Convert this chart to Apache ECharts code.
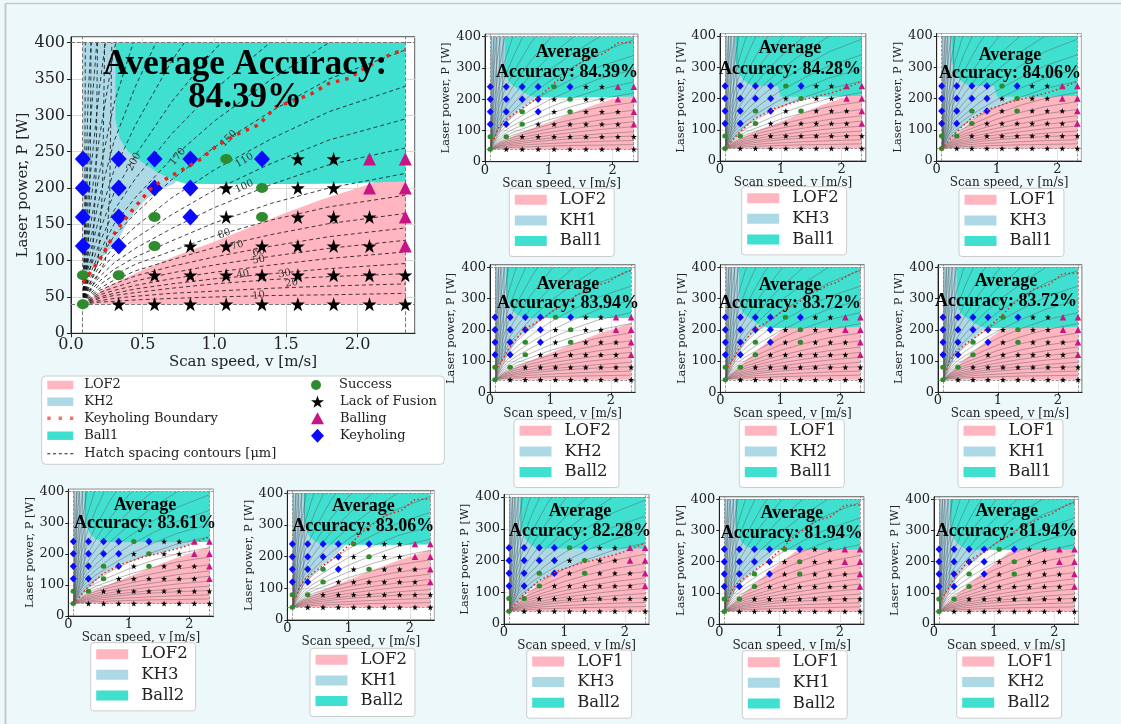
<!DOCTYPE html>
<html><head><meta charset="utf-8">
<script src="https://cdn.jsdelivr.net/npm/echarts@6/dist/echarts.min.js"></script>
<style>html,body{margin:0;padding:0;background:#edf8fb}#c{width:1121px;height:724px}</style>
</head><body><div id="c"></div>
<script>
// ---------------- DATA ----------------
const ACCURACY   = ['84.39%','84.39%','84.28%','84.06%','83.94%','83.72%','83.72%','83.61%','83.06%','82.28%','81.94%','81.94%'];
const LOF_MODEL  = ['LOF2','LOF2','LOF2','LOF1','LOF2','LOF1','LOF1','LOF2','LOF2','LOF1','LOF1','LOF1'];
const KH_MODEL   = ['KH2','KH1','KH3','KH3','KH2','KH2','KH1','KH3','KH1','KH3','KH1','KH2'];
const BALL_MODEL = ['Ball1','Ball1','Ball1','Ball1','Ball2','Ball1','Ball1','Ball2','Ball2','Ball2','Ball2','Ball2'];

// experiment grid (scan speed m/s, power W) and observed outcome
const V_LEVELS = [0.083,0.333,0.583,0.833,1.083,1.333,1.583,1.833,2.083,2.333];
const P_LEVELS = [240,200,160,120,80,40];
// S = Success, L = Lack of Fusion, B = Balling, K = Keyholing
const OUTCOMES = ['KKKKSKLLBB','KKKKLSLLBB','KKSKLSLLLB','KKSLLLLLLB','SSLLLLLLLL','SLLLLLLLLL'];

// data domain bounds (dashed lines)
const V_BOUNDS = [0.083, 2.333];
const P_BOUNDS = [40, 400];

// region boundaries [v, P]
const LOF1_TOP = [[0.083,40],[0.33,85],[0.58,128],[0.83,168],[1.08,205],[1.25,230],[1.35,240],[2.333,240]];
const LOF2_TOP = [[0.083,40],[0.25,64],[0.5,87],[0.75,108],[1.0,126],[1.25,146],[1.5,166],[1.75,184],[2.0,200],[2.333,222]];
const KH1_POLY = [[0.083,400],[0.083,62],[0.16,80],[0.31,120],[0.5,160],[0.76,200],[0.95,237],[1.1,260],[1.1,400]];
const KH2_POLY = [[0.083,400],[0.083,78],[0.12,85],[0.22,105],[0.32,125],[0.4,155],[0.5,180],[0.6,196],[0.72,206],[0.83,232],[1.0,258],[1.2,275],[1.2,400]];
const KH3_POLY = [[0.083,400],[0.083,40],[0.2,65],[0.33,92],[0.58,135],[0.9,168],[1.23,189],[1.56,205],[1.89,221],[2.1,235],[2.333,255],[2.333,400]];
const BALL1_POLY = [[0.31,400],[0.31,295],[0.34,268],[0.4,250],[0.5,235],[0.6,222],[0.7,212],[0.8,206],[1.2,205],[1.8,206],[2.333,209],[2.333,400]];
const BALL1_KH3_POLY = [[0.25,400],[0.25,320],[0.3,285],[0.38,260],[0.48,246],[0.6,241],[0.95,240],[1.0,206],[1.8,206],[2.333,209],[2.333,400]];
const BALL2_POLY = [[0.27,400],[0.27,320],[0.3,290],[0.36,265],[0.44,250],[0.52,242],[0.62,238],[1.5,237],[2.333,238],[2.333,400]];

// keyholing boundaries
const KH1_LINE = [[0.083,65],[0.15,75],[0.2,105],[0.3,130],[0.5,160],[0.83,205],[1.08,250],[1.3,290],[1.6,330],[1.85,345],[2.08,380],[2.333,382]];
const KH2_LINE = [[0.083,70],[0.2,101],[0.317,142],[0.43,170],[0.57,202],[0.73,220],[0.9,239],[1.01,257],[1.17,275],[1.31,287],[1.43,312],[1.54,319],[1.68,330],[1.8,344],[1.94,351],[2.05,365],[2.24,385],[2.333,390]];
const KH3_LINE = [[0.083,40],[0.2,65],[0.3,88],[0.57,136],[0.9,168],[1.23,189],[1.56,205],[1.89,221],[2.1,236],[2.333,255]];

// hatch spacing contours: P at each CONTOUR_V
const CONTOUR_V = [0.083,0.12,0.2,0.3,0.45,0.7,1.0,1.4,1.8,2.333];
const CONTOUR_P = [
 [40,41,43,44,46,48,50,52,53,55],
 [40,42,45,48,51,55,58,62,65,68],
 [40,43,48,52,56,62,68,74,78,82],
 [40,44,50,55,61,68,75,82,89,96],
 [40,45,53,59,66,75,84,94,103,112],
 [40,46,56,63,72,83,94,106,117,128],
 [40,48,59,68,79,92,105,120,133,145],
 [40,50,62,73,86,101,118,136,151,165],
 [40,52,67,80,95,113,134,156,174,190],
 [40,55,72,88,105,127,152,179,200,220],
 [40,58,78,97,117,144,173,205,232,255],
 [40,62,85,108,131,163,197,234,266,295],
 [40,66,93,120,147,186,225,268,305,340],
 [40,70,102,134,165,211,256,306,350,390],
 [40,75,112,150,187,240,292,350,400,450],
 [40,82,125,169,213,274,335,402,460,520],
 [40,90,141,193,245,318,390,470,540,610],
 [40,100,162,224,287,374,460,560,650,740],
 [40,113,188,264,340,445,550,670,780,900],
 [40,130,222,316,410,540,670,820,960,1100],
 [40,155,272,390,510,680,850,1050,1250,1450],
 [40,190,340,490,640,860,1080,1350,1600,1900],
 [40,250,450,650,850,1150,1450,1800,2150,2550],
 [40,330,600,870,1140,1550,1950,2450,2900,3450]
];
// near-vertical contours in the keyholing strip [v, P]
const STRIP_CONTOURS = [
 [[0.083,40],[0.095,120],[0.1,400]],
 [[0.083,40],[0.12,110],[0.135,250],[0.14,400]],
 [[0.083,40],[0.15,105],[0.175,220],[0.185,400]],
 [[0.083,40],[0.19,100],[0.22,200],[0.235,400]],
 [[0.083,40],[0.24,100],[0.27,190],[0.285,400]]
];
// inline contour labels on the large plot: [v, P, text, angle]
const CONTOUR_LABELS = [
 [1.31,52,'10',8],[1.54,69,'20',10],[1.49,82,'30',10],[1.2,81,'40',12],[1.31,101,'50',12],
 [1.31,112,'60',14],[1.16,121,'70',16],[1.07,137,'80',20],[1.21,202,'100',24],[1.21,238,'110',30],
 [0.745,243,'170',50],[0.44,236,'200',62],[1.1,268,'150',45]
];

// ---------------- STYLE / LAYOUT ----------------
const SERIF = 'DejaVu Serif';
const TITLE_FONT = '"Liberation Serif", "Times New Roman", serif';
const C_LOF = '#ffb6c1', C_KH = '#add8e6', C_BALL = '#40e0d0';
const C_S = '#2e8b2e', C_L = '#000000', C_B = '#c71585', C_K = '#0a0aff';
const STAR = 'path://M50,0L61.8,35.1L98.9,35.1L68.9,56.9L80.3,92L50,70.3L19.7,92L31.1,56.9L1.1,35.1L38.2,35.1Z';
const LOF_TOP = {LOF1: LOF1_TOP, LOF2: LOF2_TOP};
const KH_POLY = {KH1: KH1_POLY, KH2: KH2_POLY, KH3: KH3_POLY};
const KH_LINE = {KH1: KH1_LINE, KH2: KH2_LINE, KH3: KH3_LINE};
const BALL_POLY = {Ball1: BALL1_POLY, Ball2: BALL2_POLY, Ball1KH3: BALL1_KH3_POLY};

// pixel layout: x0 (v=0), px per m/s, y0 (P=0), px per 400 W
const LAYOUT = [
 [71,143.3,333.3,290.6],
 [485,63.8,161.7,125],[720,60.8,161,125],[936.7,60.3,161,125],
 [490,60.5,392.3,125],[720.4,60,392.3,125],[938,60,392.3,125],
 [68.3,60.5,616,124.3],[287.3,61.3,620,126.7],
 [504,60.5,624,127],[719.3,60.3,624,124.7],[934,60.2,624,124.7]
];
// title centers: x, line1 y, line2 y
const TITLE_POS = [
 [245,65,98],
 [567,52,72],[790,48.3,69.3],[1010,55,73.3],
 [568,284,303.3],[790,285,303],[1006,281.7,301.7],
 [145,505,523.3],[363.3,506.7,526.7],
 [580,511.7,531.7],[791.7,513.3,533.3],[1006.7,511.7,531.7]
];
// small legend boxes: left, top
const LEGEND_POS = [
 null,
 [509.3,188.3],[741.7,186.7],[959,188.3],
 [514,419.3],[739.3,419.3],[958,419.3],
 [90.7,642.7],[310,648.3],
 [526.7,650],[742.3,650.7],[956.7,650]
];

const grids=[], xAxes=[], yAxes=[], series=[], legends=[], graphics=[];

function ptsGroup(code){
  const out=[];
  OUTCOMES.forEach((row,r)=>{ for(let k=0;k<row.length;k++){ if(row[k]===code) out.push([V_LEVELS[k],P_LEVELS[r]]); } });
  return out;
}

function polySeries(name, poly, color, gi, z){
  return {type:'custom', name, xAxisIndex:gi, yAxisIndex:gi, z, silent:true, animation:false,
    itemStyle:{color}, data: poly,
    renderItem(params, api){
      if(params.dataIndex!==0) return null;
      return {type:'polygon', shape:{points: poly.map(p=>api.coord(p))}, style:{fill:color}};
    }};
}

ACCURACY.forEach((acc,i)=>{
  const main = i===0;
  const [x0,sx,y0,sy] = LAYOUT[i];
  const h = sy*408/400, w = sx*2.4;
  grids.push({left:x0, top:y0-h, width:w, height:h, show:true, backgroundColor:'#ffffff',
    borderColor: main?'#222':'#555', borderWidth:1, containLabel:false, outerBoundsMode:'none'});
  const tickFont = main?16:13;
  xAxes.push({type:'value', gridIndex:i, min:0, max:2.4, interval: main?0.5:1,
    name:'Scan speed, v [m/s]', nameLocation:'middle', nameGap: main?20:13,
    nameTextStyle:{fontFamily:SERIF, fontSize: main?15:12, color:'#222'},
    axisLine:{show:true, onZero:false, lineStyle:{color:'#222', width:1}},
    axisTick:{show:true, length: main?4:3, lineStyle:{color:'#222'}},
    axisLabel:{fontFamily:SERIF, fontSize:tickFont, color:'#222', margin: main?4:2, showMaxLabel:false,
      formatter: v => main ? v.toFixed(1) : String(Math.round(v))},
    splitLine:{show:true, lineStyle:{color:'#d9d9d9', width: main?1:0.7}}});
  yAxes.push({type:'value', gridIndex:i, min:0, max:408, interval: main?50:100,
    name:'Laser power, P [W]', nameLocation:'middle', nameGap: main?39:26, nameRotate:90,
    nameTextStyle:{fontFamily:SERIF, fontSize: main?15:11.5, color:'#222'},
    axisLine:{show:true, onZero:false, lineStyle:{color:'#222', width:1}},
    axisTick:{show:true, length: main?4:3, lineStyle:{color:'#222'}},
    axisLabel:{fontFamily:SERIF, fontSize:tickFont, color:'#222', margin: main?6:4, showMaxLabel:false,
      formatter: v => String(Math.round(v))},
    splitLine:{show:true, lineStyle:{color:'#d9d9d9', width: main?1:0.7}}});

  const lof = LOF_MODEL[i], kh = KH_MODEL[i], ball = BALL_MODEL[i];
  const ballPoly = BALL_POLY[ball+kh] || BALL_POLY[ball];
  series.push(polySeries(lof, LOF_TOP[lof].concat([[V_BOUNDS[1],P_BOUNDS[0]]]), C_LOF, i, 1));
  series.push(polySeries(kh, KH_POLY[kh], C_KH, i, 2));
  series.push(polySeries(ball, ballPoly, C_BALL, i, 3));

  // contours (clipped to data domain) + dashed domain bounds
  const cStyle = main ? {stroke:'#111', lineWidth:0.8, lineDash:[4,3], fill:null}
                      : {stroke:'#555', lineWidth:0.5, fill:null, opacity:0.85};
  series.push({type:'custom', name: main?'Hatch spacing contours [μm]':'contours'+i, xAxisIndex:i, yAxisIndex:i, z:4, silent:true, animation:false,
    itemStyle:{color:'#000'}, data:[[V_BOUNDS[0],P_BOUNDS[0]]],
    renderItem(params, api){
      const tl = api.coord([V_BOUNDS[0],P_BOUNDS[1]]), br = api.coord([V_BOUNDS[1],P_BOUNDS[0]]);
      const children = CONTOUR_P.map(row=>({type:'polyline',
        shape:{points: row.map((p,k)=>api.coord([CONTOUR_V[k],p]))}, style: cStyle}));
      STRIP_CONTOURS.forEach(line=>children.push({type:'polyline', shape:{points: line.map(p=>api.coord(p))}, style: cStyle}));
      return {type:'group', children, clipPath:{type:'rect', shape:{x:tl[0], y:tl[1], width:br[0]-tl[0], height:br[1]-tl[1]}}};
    },
    markLine:{silent:true, symbol:['none','none'], label:{show:false}, animation:false,
      lineStyle:{type:'dashed', color:'#777', width: main?1:0.7},
      emphasis:{disabled:true},
      data:[{xAxis:V_BOUNDS[0]},{xAxis:V_BOUNDS[1]},{yAxis:P_BOUNDS[0]},{yAxis:P_BOUNDS[1]}]}
  });

  if(main){
    series.push({type:'custom', name:'clabels', xAxisIndex:i, yAxisIndex:i, z:4.5, silent:true, animation:false,
      data: CONTOUR_LABELS,
      renderItem(params, api){
        const d = CONTOUR_LABELS[params.dataIndex];
        const c = api.coord([d[0], d[1]]);
        return {type:'text', x:c[0], y:c[1], rotation: d[3]*Math.PI/180,
          style:{text:d[2], font:'10px "DejaVu Serif"', fill:'#333', align:'center', verticalAlign:'middle'}};
      }});
  }

  const sc = (name, code, symbol, size, color) => ({type:'scatter', name: main?name:name+i, xAxisIndex:i, yAxisIndex:i, z:5, silent:true, animation:false,
    symbol, symbolSize:size, itemStyle:{color, opacity:1}, data: ptsGroup(code)});
  series.push(sc('Success','S','circle', main?[12,10]:[5.5,5], C_S));
  series.push(sc('Lack of Fusion','L',STAR, main?14:6, C_L));
  series.push(sc('Balling','B','triangle', main?13:6.5, C_B));
  series.push(sc('Keyholing','K','diamond', main?[16,17]:[7,7.5], C_K));

  series.push({type:'line', name: main?'Keyholing Boundary':'khb'+i, xAxisIndex:i, yAxisIndex:i, z:6, silent:true, animation:false,
    data: KH_LINE[kh], symbol:'none', smooth:false,
    lineStyle:{color:'#e3261c', width: main?3.5:1.5, type: main?[3.5,6]:[1.5,2.5], cap:'butt'}});

  // titles
  const [tx,ty1,ty2] = TITLE_POS[i];
  if(main){
    graphics.push({type:'text', x:tx, y:ty1, z:100, style:{text:'Average Accuracy:', font:'bold 35px '+TITLE_FONT, fill:'#000', align:'center', verticalAlign:'middle'}});
    graphics.push({type:'text', x:tx, y:ty2, z:100, style:{text:acc, font:'bold 35px '+TITLE_FONT, fill:'#000', align:'center', verticalAlign:'middle'}});
  } else {
    graphics.push({type:'text', x:tx, y:ty1, z:100, style:{text:'Average', font:'bold 18px '+TITLE_FONT, fill:'#000', align:'center', verticalAlign:'middle'}});
    graphics.push({type:'text', x:tx, y:ty2, z:100, style:{text:'Accuracy: '+acc, font:'bold 18px '+TITLE_FONT, fill:'#000', align:'center', verticalAlign:'middle'}});
    const [lx,ly] = LEGEND_POS[i];
    legends.push({left:lx, top:ly, orient:'vertical', selectedMode:false,
      backgroundColor:'#ffffff', borderColor:'#cccccc', borderWidth:1, borderRadius:3,
      padding:[3,8,7,5.5], itemWidth:32, itemHeight:10, itemGap:3.6,
      textStyle:{fontFamily:SERIF, fontSize:16.5, lineHeight:17, color:'#222', padding:[0,0,0,8]},
      data:[{name:lof, icon:'rect', itemStyle:{color:C_LOF}},{name:kh, icon:'rect', itemStyle:{color:C_KH}},{name:ball, icon:'rect', itemStyle:{color:C_BALL}}]});
  }
});

// main legend (two columns)
function rowLegend(name, icon, color, left, cy, iw, ih, pl){
  legends.push({left, top: cy-7, orient:'vertical', selectedMode:false, padding:0,
    itemWidth:iw, itemHeight:ih, itemGap:0,
    textStyle:{fontFamily:SERIF, fontSize:13, lineHeight:14, color:'#222', padding:[0,0,0,pl]},
    data:[{name, icon, itemStyle:{color, borderWidth:0}}]});
}
rowLegend('LOF2','rect',C_LOF,47.3,385,26,8.5,6);
rowLegend('KH2','rect',C_KH,47.3,401.7,26,8.5,6);
rowLegend('Keyholing Boundary','path://M0,0h3v3h-3zM10,0h3v3h-3zM20,0h3v3h-3z','#f07468',47.3,418.3,26,3.5,6);
rowLegend('Ball1','rect',C_BALL,47.3,435.7,26,8.5,6);
rowLegend('Hatch spacing contours [μm]','path://M0,0h3v1h-3zM5.6,0h3v1h-3zM11.2,0h3v1h-3zM16.8,0h3v1h-3zM22.4,0h3v1h-3z','#222',47.3,453.7,26,1.3,6);
rowLegend('Success','circle',C_S,311,385,12,10,12);
rowLegend('Lack of Fusion',STAR,C_L,311,401.7,13,13,11);
rowLegend('Balling','triangle',C_B,311,418.3,13,12,11);
rowLegend('Keyholing','diamond',C_K,311,435.7,13,14,11);

graphics.unshift({type:'rect', z:0, shape:{x:41.7, y:376, width:402.6, height:88.3, r:4}, style:{fill:'#ffffff', stroke:'#cccccc', lineWidth:1}});
graphics.unshift({type:'line', z:0, shape:{x1:5.5, y1:3.5, x2:1121, y2:3.5}, style:{stroke:'#c8c8c8', lineWidth:1.5}});
graphics.unshift({type:'line', z:0, shape:{x1:5.5, y1:3.5, x2:5.5, y2:724}, style:{stroke:'#c8c8c8', lineWidth:2}});

const chart = echarts.init(document.getElementById('c'), null, {renderer:'canvas', width:1121, height:724});
chart.setOption({
  backgroundColor:'#edf8fb', animation:false,
  grid:grids, xAxis:xAxes, yAxis:yAxes, series, legend:legends, graphic:graphics,
  tooltip:{show:false}
});
</script>
</body></html>
